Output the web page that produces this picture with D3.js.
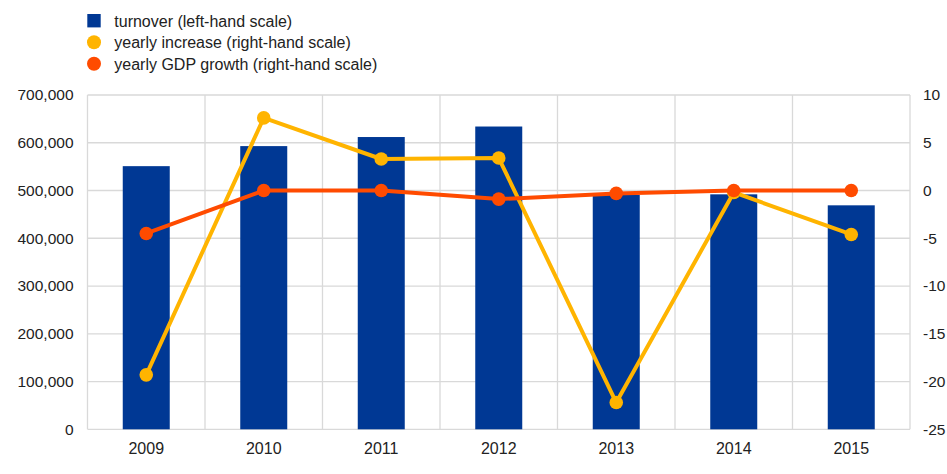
<!DOCTYPE html>
<html>
<head>
<meta charset="utf-8">
<script src="https://cdn.jsdelivr.net/npm/d3@7"></script>
<style>
  html, body { margin: 0; padding: 0; background: #fff; }
  svg { display: block; font-family: "Liberation Sans", Arial, sans-serif; }
</style>
</head>
<body>
<svg id="chart" width="947" height="474"></svg>
<script>
const years = ["2009", "2010", "2011", "2012", "2013", "2014", "2015"];
const turnover = [551000, 593000, 612000, 634000, 491000, 492000, 469000];
const yearlyIncrease = [-19.3, 7.6, 3.3, 3.4, -22.2, -0.2, -4.6];
const gdpGrowth = [-4.5, 0.0, 0.0, -0.9, -0.3, 0.0, 0.0];
const leftTicks = [0, 100000, 200000, 300000, 400000, 500000, 600000, 700000];
const rightTicks = [10, 5, 0, -5, -10, -15, -20, -25];
const legendItems = [
  { label: "turnover (left-hand scale)", color: "#003894", shape: "square" },
  { label: "yearly increase (right-hand scale)", color: "#ffb400", shape: "circle" },
  { label: "yearly GDP growth (right-hand scale)", color: "#ff4b00", shape: "circle" }
];

const svg = d3.select("#chart");
const m = { left: 87.5, right: 910, top: 95, bottom: 429.3 };

const x = d3.scaleBand().domain(years).range([m.left, m.right]).paddingInner(0).paddingOuter(0);
const yL = d3.scaleLinear().domain([0, 700000]).range([m.bottom, m.top]);
const yR = d3.scaleLinear().domain([-25, 10]).range([m.bottom, m.top]);

const grid = svg.append("g");
grid.selectAll("line.h").data(leftTicks).join("line")
  .attr("x1", m.left).attr("x2", m.right)
  .attr("y1", d => yL(d)).attr("y2", d => yL(d))
  .attr("stroke", "#d9d9d9").attr("stroke-width", 1.3);
const bounds = years.map(d => x(d)).concat([m.right]);
grid.selectAll("line.v").data(bounds).join("line")
  .attr("x1", d => d).attr("x2", d => d)
  .attr("y1", m.top).attr("y2", m.bottom)
  .attr("stroke", "#d9d9d9").attr("stroke-width", 1.3);

const barW = x.bandwidth() * 0.4;
svg.append("g").selectAll("rect").data(years).join("rect")
  .attr("x", (d) => x(d) + x.bandwidth() / 2 - barW / 2)
  .attr("width", barW)
  .attr("y", (d, i) => yL(turnover[i]))
  .attr("height", (d, i) => yL(0) - yL(turnover[i]))
  .attr("fill", "#003894");

const axL = svg.append("g").attr("transform", `translate(${m.left},0)`)
  .call(d3.axisLeft(yL).tickValues(leftTicks).tickSize(0).tickPadding(14)
    .tickFormat(d3.format(",")));
axL.select(".domain").remove();
axL.selectAll("text").attr("font-size", 15.5).attr("fill", "#222").attr("font-family", "Liberation Sans, Arial, sans-serif");

const axR = svg.append("g").attr("transform", `translate(${m.right},0)`)
  .call(d3.axisRight(yR).tickValues(rightTicks).tickSize(0).tickPadding(13)
    .tickFormat(d => String(d)));
axR.select(".domain").remove();
axR.selectAll("text").attr("font-size", 15.5).attr("fill", "#222").attr("font-family", "Liberation Sans, Arial, sans-serif");

const axB = svg.append("g").attr("transform", `translate(0,${m.bottom})`)
  .call(d3.axisBottom(x).tickSize(0).tickPadding(13));
axB.select(".domain").remove();
axB.selectAll("text").attr("font-size", 16).attr("fill", "#222").attr("font-family", "Liberation Sans, Arial, sans-serif");

const cx = d => x(d) + x.bandwidth() / 2;

function drawLine(vals, color) {
  const g = svg.append("g");
  g.append("path")
    .datum(vals)
    .attr("d", d3.line().x((d, i) => cx(years[i])).y(d => yR(d)))
    .attr("fill", "none").attr("stroke", color).attr("stroke-width", 4)
    .attr("stroke-linejoin", "round");
  g.selectAll("circle").data(vals).join("circle")
    .attr("cx", (d, i) => cx(years[i])).attr("cy", d => yR(d))
    .attr("r", 6.8).attr("fill", color);
}
drawLine(yearlyIncrease, "#ffb400");
drawLine(gdpGrowth, "#ff4b00");

const leg = svg.append("g");
legendItems.forEach((it, i) => {
  const cy = 20.7 + i * 21.5;
  if (it.shape === "square") {
    leg.append("rect").attr("x", 87.3).attr("y", cy - 6.7).attr("width", 13.4).attr("height", 13.4).attr("fill", it.color);
  } else {
    leg.append("circle").attr("cx", 94).attr("cy", cy).attr("r", 7).attr("fill", it.color);
  }
  leg.append("text").attr("x", 114.3).attr("y", cy + 5.8)
    .attr("font-size", 16).attr("fill", "#222").text(it.label);
});
</script>
</body>
</html>
